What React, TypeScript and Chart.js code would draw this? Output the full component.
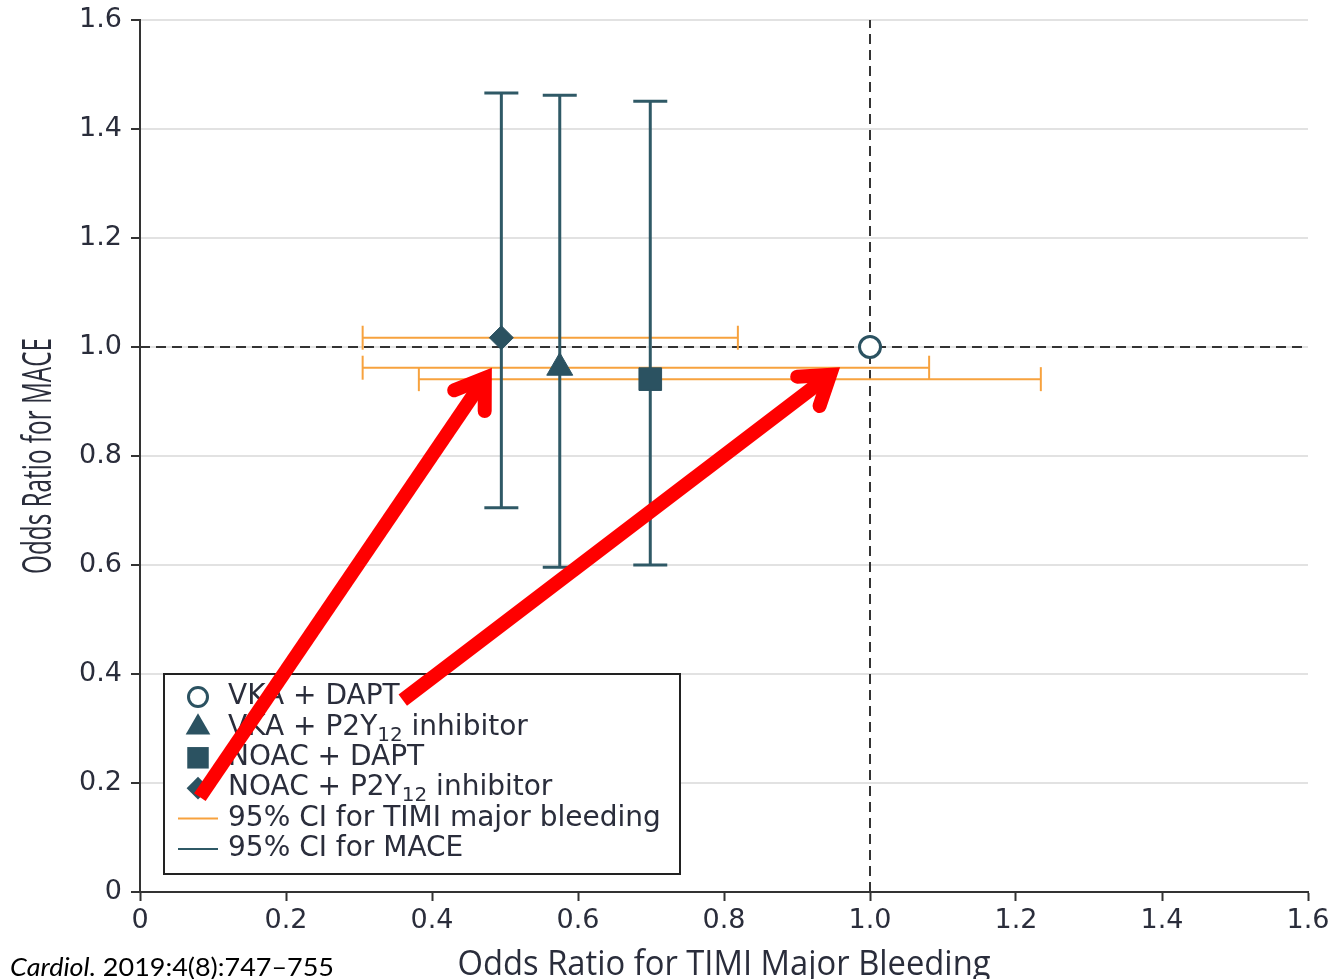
import React, { useEffect, useRef } from 'react';
import { Chart, registerables } from 'chart.js';

Chart.register(...registerables);

// ---------------- data ----------------
const groups = ['VKA + DAPT', 'VKA + P2Y12 inhibitor', 'NOAC + DAPT', 'NOAC + P2Y12 inhibitor'];
const bleedingOR = [1.0, 0.575, 0.699, 0.495];
const maceOR = [1.0, 0.962, 0.941, 1.017];
const bleedingLo = [null, 0.305, 0.382, 0.305];
const bleedingHi = [null, 1.081, 1.234, 0.819];
const maceLo = [null, 0.596, 0.6, 0.705];
const maceHi = [null, 1.462, 1.451, 1.466];
const ciLabels = ['95% CI for TIMI major bleeding', '95% CI for MACE'];
const xTickLabels = ['0', '0.2', '0.4', '0.6', '0.8', '1.0', '1.2', '1.4', '1.6'];
const yTickLabels = ['0', '0.2', '0.4', '0.6', '0.8', '1.0', '1.2', '1.4', '1.6'];
const refX = 1.0;
const refY = 1.0;
const xTitle = 'Odds Ratio for TIMI Major Bleeding';
const yTitle = 'Odds Ratio for MACE';
const citeItalic = 'Cardiol.';
const citeRest = ' 2019:4(8):747\u2013755';
// annotation arrows (data coordinates)
const arrowTails = [{ x: 0.082, y: 0.174 }, { x: 0.36, y: 0.352 }];
const arrowTips = [{ x: 0.482, y: 0.962 }, { x: 0.959, y: 0.963 }];

// ---------------- styles ----------------
const TEAL_LINE = '#2f5966';
const TEAL_FILL = '#2b5261';
const ORANGE = '#f7a23e';
const DASH = '#333333';
const TEXT = '#2a2d3b';
const RED = '#ff0000';
const markerStyles = ['circle', 'triangle', 'rect', 'rectRot'];
const markerRadius = [10.5, 15, 16, 12];

function drawShape(ctx: CanvasRenderingContext2D, style: string, x: number, y: number, r: number) {
  ctx.beginPath();
  if (style === 'circle') {
    ctx.arc(x, y, r, 0, Math.PI * 2);
    ctx.lineWidth = 3;
    ctx.strokeStyle = TEAL_FILL;
    ctx.stroke();
    return;
  }
  if (style === 'triangle') {
    const c = Math.cos(Math.PI / 6) * r;
    ctx.moveTo(x, y - r);
    ctx.lineTo(x + c, y + r / 2);
    ctx.lineTo(x - c, y + r / 2);
    ctx.closePath();
  } else if (style === 'rect') {
    const s = Math.SQRT1_2 * r;
    ctx.rect(x - s, y - s, 2 * s, 2 * s);
  } else {
    ctx.moveTo(x - r, y);
    ctx.lineTo(x, y - r);
    ctx.lineTo(x + r, y);
    ctx.lineTo(x, y + r);
    ctx.closePath();
  }
  ctx.fillStyle = TEAL_FILL;
  ctx.fill();
}

function drawLabel(ctx: CanvasRenderingContext2D, text: string, x: number, y: number) {
  const main = '28px "DejaVu Sans"';
  const sub = '20px "DejaVu Sans"';
  ctx.fillStyle = TEXT;
  ctx.textAlign = 'left';
  ctx.textBaseline = 'middle';
  const idx = text.indexOf('P2Y12');
  if (idx < 0) {
    ctx.font = main;
    ctx.fillText(text, x, y);
    return;
  }
  const a = text.slice(0, idx + 3);
  const b = '12';
  const c = text.slice(idx + 5);
  ctx.font = main;
  ctx.fillText(a, x, y);
  let cx = x + ctx.measureText(a).width;
  ctx.font = sub;
  ctx.fillText(b, cx, y + 8);
  cx += ctx.measureText(b).width;
  ctx.font = main;
  ctx.fillText(c, cx, y);
}

function fitText(ctx: CanvasRenderingContext2D, text: string, cx: number, cy: number, width: number, font: string, rotate: boolean) {
  ctx.save();
  ctx.font = font;
  const w = ctx.measureText(text).width;
  ctx.translate(cx, cy);
  if (rotate) ctx.rotate(-Math.PI / 2);
  ctx.scale(width / w, 1);
  ctx.textAlign = 'center';
  ctx.textBaseline = 'alphabetic';
  ctx.fillStyle = TEXT;
  ctx.fillText(text, 0, 0);
  ctx.restore();
}

const overlayPlugin = {
  id: 'overlay',
  afterDatasetsDraw(chart: any) {
    const { ctx, chartArea } = chart;
    const xs = chart.scales.x;
    const ys = chart.scales.y;
    ctx.save();
    // legend box
    const bx = chartArea.left + 24;
    const by = chartArea.bottom - 218;
    const bw = 516;
    const bh = 200;
    ctx.fillStyle = '#ffffff';
    ctx.fillRect(bx, by, bw, bh);
    ctx.strokeStyle = '#222222';
    ctx.lineWidth = 2;
    ctx.strokeRect(bx, by, bw, bh);
    const rowH = 30.4;
    const symX = bx + 34;
    const txtX = bx + 64;
    groups.forEach((g, i) => {
      const yy = by + 23 + i * rowH;
      drawShape(ctx, markerStyles[i], symX, yy, i === 0 ? 9.5 : markerRadius[i] * 0.95);
      drawLabel(ctx, g, txtX, yy);
    });
    ciLabels.forEach((l, j) => {
      const yy = by + 23 + (4 + j) * rowH;
      ctx.beginPath();
      ctx.moveTo(bx + 14, yy);
      ctx.lineTo(bx + 54, yy);
      ctx.strokeStyle = j === 0 ? ORANGE : TEAL_LINE;
      ctx.lineWidth = 2;
      ctx.stroke();
      drawLabel(ctx, l, txtX, yy);
    });
    // red annotation arrows
    const w = 14;
    const half = (34 * Math.PI) / 180;
    const L = 33;
    arrowTails.forEach((t, k) => {
      const tx = xs.getPixelForValue(t.x);
      const ty = ys.getPixelForValue(t.y);
      const hx = xs.getPixelForValue(arrowTips[k].x);
      const hy = ys.getPixelForValue(arrowTips[k].y);
      const ang = Math.atan2(hy - ty, hx - tx);
      const m = w / 2 / Math.sin(half);
      const px = hx - m * Math.cos(ang);
      const py = hy - m * Math.sin(ang);
      ctx.strokeStyle = RED;
      ctx.lineWidth = w;
      ctx.lineCap = 'butt';
      ctx.beginPath();
      ctx.moveTo(tx, ty);
      ctx.lineTo(px - 4 * Math.cos(ang), py - 4 * Math.sin(ang));
      ctx.stroke();
      ctx.lineCap = 'round';
      ctx.lineJoin = 'miter';
      ctx.miterLimit = 10;
      ctx.beginPath();
      ctx.moveTo(px - L * Math.cos(ang - half), py - L * Math.sin(ang - half));
      ctx.lineTo(px, py);
      ctx.lineTo(px - L * Math.cos(ang + half), py - L * Math.sin(ang + half));
      ctx.stroke();
    });
    ctx.restore();
  },
  afterDraw(chart: any) {
    const { ctx, chartArea } = chart;
    const cx = (chartArea.left + chartArea.right) / 2;
    const cy = (chartArea.top + chartArea.bottom) / 2;
    fitText(ctx, xTitle, cx, 975, 533, '500 34px "Open Sans"', false);
    fitText(ctx, yTitle, 51, cy, 236, '500 40px "Open Sans"', true);
    // citation
    ctx.save();
    const fi = 'italic 25px Lato';
    const fn = '25px Lato';
    ctx.font = fi;
    const w1 = ctx.measureText(citeItalic).width;
    ctx.font = fn;
    const w2 = ctx.measureText(citeRest).width;
    const s = 324 / (w1 + w2);
    ctx.translate(10, 976);
    ctx.scale(s, 1);
    ctx.fillStyle = '#000000';
    ctx.textAlign = 'left';
    ctx.textBaseline = 'alphabetic';
    ctx.font = fi;
    ctx.fillText(citeItalic, 0, 0);
    ctx.font = fn;
    ctx.fillText(citeRest, w1, 0);
    ctx.restore();
  },
};

export default function App() {
  const ref = useRef<HTMLCanvasElement | null>(null);
  useEffect(() => {
    if (!ref.current) return;
    const datasets: any[] = [];
    groups.forEach((g, i) => {
      datasets.push({
        type: 'scatter',
        label: g,
        data: [{ x: bleedingOR[i], y: maceOR[i] }],
        pointStyle: markerStyles[i],
        pointRadius: markerRadius[i],
        pointHoverRadius: markerRadius[i],
        backgroundColor: i === 0 ? '#ffffff' : TEAL_FILL,
        borderColor: TEAL_FILL,
        borderWidth: i === 0 ? 3 : 1,
        order: 0,
      });
    });
    groups.forEach((g, i) => {
      if (maceLo[i] == null) return;
      datasets.push({
        type: 'line',
        label: g + ' MACE CI',
        data: [
          { x: bleedingOR[i], y: maceLo[i] },
          { x: bleedingOR[i], y: maceHi[i] },
        ],
        borderColor: TEAL_LINE,
        borderWidth: 3,
        pointStyle: 'line',
        pointRadius: 17,
        pointBorderColor: TEAL_LINE,
        pointBorderWidth: 3,
        fill: false,
        order: 1,
      });
    });
    groups.forEach((g, i) => {
      if (bleedingLo[i] == null) return;
      datasets.push({
        type: 'line',
        label: g + ' bleeding CI',
        data: [
          { x: bleedingLo[i], y: maceOR[i] },
          { x: bleedingHi[i], y: maceOR[i] },
        ],
        borderColor: ORANGE,
        borderWidth: 2,
        pointStyle: 'line',
        pointRotation: 90,
        pointRadius: 12,
        pointBorderColor: ORANGE,
        pointBorderWidth: 2,
        fill: false,
        order: 2,
      });
    });
    datasets.push({
      type: 'line',
      label: 'ref y',
      data: [{ x: 0, y: refY }, { x: 1.6, y: refY }],
      borderColor: DASH,
      borderWidth: 2,
      borderDash: [10, 6],
      pointRadius: 0,
      fill: false,
      order: 3,
    });
    datasets.push({
      type: 'line',
      label: 'ref x',
      data: [{ x: refX, y: 0 }, { x: refX, y: 1.6 }],
      borderColor: DASH,
      borderWidth: 2,
      borderDash: [10, 6],
      pointRadius: 0,
      fill: false,
      order: 3,
    });

    const tickFont = { family: '"DejaVu Sans"', size: 27 };
    const chart = new Chart(ref.current, {
      type: 'scatter',
      data: { datasets },
      options: {
        animation: false,
        responsive: false,
        devicePixelRatio: 1,
        layout: { padding: { top: 20, right: 28, left: 0, bottom: 0 } },
        plugins: { legend: { display: false }, tooltip: { enabled: false } },
        events: [],
        scales: {
          x: {
            type: 'linear',
            min: 0,
            max: 1.6,
            afterFit: (s: any) => {
              s.height = 87;
              s.paddingLeft = 0;
              s.paddingRight = 0;
            },
            ticks: {
              stepSize: 0.2,
              color: TEXT,
              font: tickFont,
              padding: 4,
              maxRotation: 0,
              callback: (_v: any, i: number) => xTickLabels[i],
            },
            grid: {
              drawOnChartArea: false,
              drawTicks: true,
              tickLength: 9,
              tickColor: '#333333',
              tickWidth: 2,
              color: '#333333',
            },
            border: { color: '#333333', width: 2 },
            title: { display: false },
          },
          y: {
            type: 'linear',
            min: 0,
            max: 1.6,
            afterFit: (s: any) => {
              s.width = 140;
              s.paddingTop = 0;
              s.paddingBottom = 0;
            },
            ticks: {
              stepSize: 0.2,
              color: TEXT,
              font: tickFont,
              padding: 9,
              callback: (_v: any, i: number) => yTickLabels[i],
            },
            grid: {
              color: '#e2e2e2',
              lineWidth: 2,
              drawTicks: true,
              tickLength: 9,
              tickColor: '#333333',
              tickWidth: 2,
            },
            border: { color: '#333333', width: 2 },
            title: { display: false },
          },
        },
      },
      plugins: [overlayPlugin],
    } as any);
    return () => chart.destroy();
  }, []);
  return (
    <div style={{ position: 'absolute', left: 0, top: 0, width: 1336, height: 979, background: '#ffffff' }}>
      <canvas ref={ref} width={1336} height={979} style={{ display: 'block' }} />
    </div>
  );
}
